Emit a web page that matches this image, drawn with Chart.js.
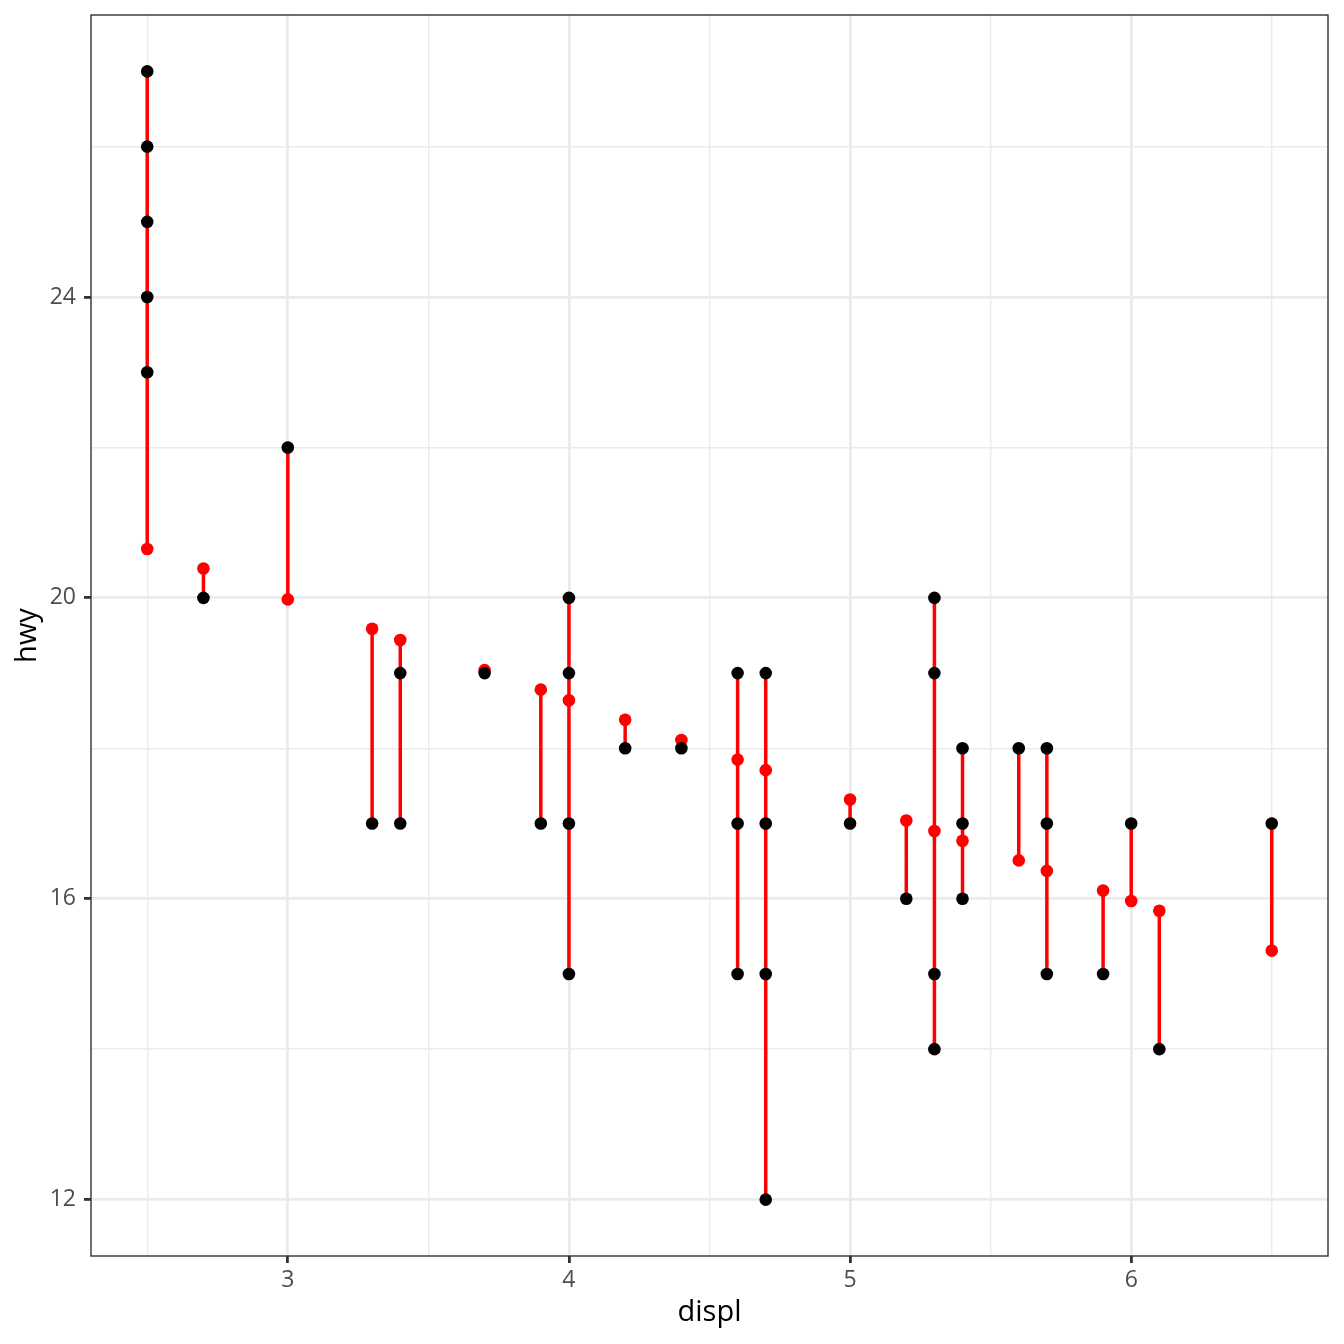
<!DOCTYPE html>
<html>
<head>
<meta charset="utf-8">
<script src="https://cdn.jsdelivr.net/npm/chart.js@4/dist/chart.umd.min.js"></script>
<style>
  body { margin: 0; background: #fff; }
  #wrap { width: 1344px; height: 1344px; }
</style>
</head>
<body>
<div id="wrap"><canvas id="chart" width="1344" height="1344"></canvas></div>
<script>
// displ groups, fitted hwy (red) and observed hwy (black) per group
const displ = [2.5, 2.7, 3.0, 3.3, 3.4, 3.7, 3.9, 4.0, 4.2, 4.4, 4.6, 4.7, 5.0, 5.2, 5.3, 5.4, 5.6, 5.7, 5.9, 6.0, 6.1, 6.5];
const fitted = [20.65, 20.39, 19.98, 19.59, 19.44, 19.04, 18.78, 18.64, 18.38, 18.11, 17.85, 17.71, 17.32, 17.04, 16.90, 16.77, 16.51, 16.37, 16.11, 15.97, 15.84, 15.31];
const hwy = [
  [27, 26, 25, 24, 23], [20], [22], [17], [19, 17], [19], [17], [20, 19, 17, 15],
  [18], [18], [19, 17, 15], [19, 17, 15, 12], [17], [16], [20, 19, 15, 14],
  [18, 17, 16], [18], [18, 17, 15], [15], [17], [14], [17]
];

// axis ticks (major ones get a label)
const xTicks = [2.5, 3, 3.5, 4, 4.5, 5, 5.5, 6, 6.5];
const xMajor = [3, 4, 5, 6];
const yTicks = [12, 14, 16, 18, 20, 22, 24, 26];
const yMajor = [12, 16, 20, 24];

// build point lists
var observed = [];
var predicted = [];
var segments = [];
displ.forEach(function(x, i) {
    predicted.push({x: x, y: fitted[i]});
    hwy[i].forEach(function(v) { observed.push({x: x, y: v}); });
    var all = hwy[i].concat([fitted[i]]);
    segments.push({x: x, y: Math.min.apply(null, all)});
    segments.push({x: x, y: Math.max.apply(null, all)});
    segments.push({x: x, y: null});
});

var FONT = "'Open Sans', 'Noto Sans', sans-serif";

function isMajor(list, v) {
    return list.some(function(m) { return Math.abs(m - v) < 1e-9; });
}

// full panel border (theme_bw)
var panelBorder = {
    id: 'panelBorder',
    afterDatasetsDraw(chart) {
        var a = chart.chartArea, c = chart.ctx;
        c.save();
        c.strokeStyle = '#333333';
        c.lineWidth = 1.4;
        c.strokeRect(a.left, a.top, a.right - a.left, a.bottom - a.top);
        c.restore();
    }
};

function gridFor(major) {
    return {
        color: '#EBEBEB',
        lineWidth: function(ctx) { return ctx.tick && isMajor(major, ctx.tick.value) ? 2.8 : 1.4; },
        tickColor: function(ctx) { return ctx.tick && isMajor(major, ctx.tick.value) ? '#333333' : 'rgba(0,0,0,0)'; },
        tickWidth: 2.8,
        tickLength: 7
    };
}

new Chart(document.getElementById('chart'), {
    type: 'scatter',
    data: {
        datasets: [
            {
                label: 'hwy',
                data: observed,
                backgroundColor: '#000000',
                borderColor: '#000000',
                pointRadius: 6.3,
                borderWidth: 0,
                order: 0
            },
            {
                label: 'fitted',
                data: predicted,
                backgroundColor: '#FF0000',
                borderColor: '#FF0000',
                pointRadius: 6.3,
                borderWidth: 0,
                order: 1
            },
            {
                label: 'residual',
                data: segments,
                showLine: true,
                spanGaps: false,
                borderColor: '#FF0000',
                borderWidth: 3.5,
                pointRadius: 0,
                order: 2
            }
        ]
    },
    plugins: [panelBorder],
    options: {
        responsive: false,
        animation: false,
        devicePixelRatio: 1,
        layout: { padding: { top: 15, right: 16, left: 0, bottom: 0 } },
        plugins: {
            legend: { display: false },
            tooltip: { enabled: false }
        },
        scales: {
            x: {
                type: 'linear',
                min: 2.3,
                max: 6.7,
                afterBuildTicks: function(axis) { axis.ticks = xTicks.map(function(v) { return {value: v}; }); },
                afterFit: function(axis) {
                    axis.height = 88;
                    axis.paddingLeft = 0;
                    axis.paddingRight = 0;
                },
                grid: gridFor(xMajor),
                border: { display: false },
                ticks: {
                    autoSkip: false,
                    maxRotation: 0,
                    padding: 4,
                    color: '#4D4D4D',
                    font: { family: FONT, size: 23 },
                    callback: function(v) { return isMajor(xMajor, v) ? String(v) : ''; }
                },
                title: {
                    display: true,
                    text: 'displ',
                    color: '#000000',
                    font: { family: FONT, size: 29 },
                    padding: { top: 0, bottom: 14 }
                }
            },
            y: {
                type: 'linear',
                min: 11.25,
                max: 27.75,
                afterBuildTicks: function(axis) { axis.ticks = yTicks.map(function(v) { return {value: v}; }); },
                afterFit: function(axis) {
                    axis.width = 91;
                    axis.paddingTop = 0;
                    axis.paddingBottom = 0;
                },
                grid: gridFor(yMajor),
                border: { display: false },
                ticks: {
                    autoSkip: false,
                    padding: 8,
                    color: '#4D4D4D',
                    font: { family: FONT, size: 23 },
                    callback: function(v) { return isMajor(yMajor, v) ? String(v) : ''; }
                },
                title: {
                    display: true,
                    text: 'hwy',
                    color: '#000000',
                    font: { family: FONT, size: 29 },
                    padding: { top: 10, bottom: 0 }
                }
            }
        }
    }
});
</script>
</body>
</html>
